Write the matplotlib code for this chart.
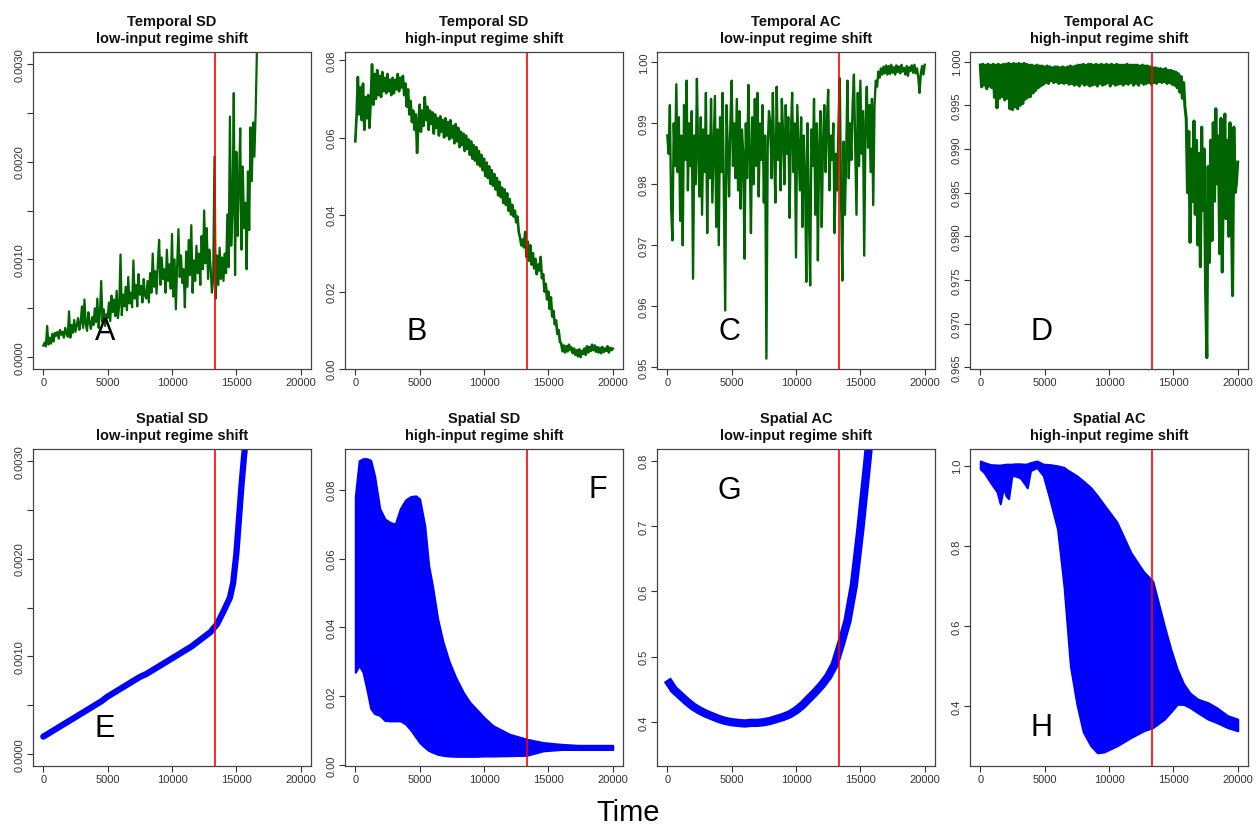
import numpy as np
import matplotlib
matplotlib.use("Agg")
import matplotlib.pyplot as plt

plt.rcParams['font.family'] = ['Liberation Sans', 'DejaVu Sans']

# --- DATA ---
SHIFT_T = 13350   # regime shift marker
STEP = 100        # sampling step of the temporal series

# A: temporal SD, low-input (x 1e-4), every 100 steps from t=0
temp_sd_low = [
    1.2, 1.5, 1.1, 3.2, 1.3, 2.0, 1.4, 2.4, 1.6, 2.5,
    2.2, 2.6, 1.9, 2.8, 2.3, 2.6, 2.0, 3.0, 2.4, 2.1,
    4.7, 2.0, 3.3, 2.5, 3.8, 2.6, 3.3, 4.0, 2.8, 3.5,
    5.2, 3.0, 5.9, 3.4, 2.7, 4.6, 3.5, 2.9, 4.1, 3.3,
    5.0, 3.6, 6.0, 3.0, 4.5, 7.8, 3.6, 4.9, 3.2, 4.4,
    4.0, 5.6, 3.7, 6.3, 4.6, 5.9, 4.2, 6.8, 4.0, 5.3,
    10.5, 4.3, 6.4, 5.2, 7.2, 4.8, 8.2, 5.5, 6.6, 5.1,
    9.9, 6.0, 7.4, 5.2, 8.5, 6.4, 7.3, 5.6, 8.0, 6.3,
    6.0, 7.8, 5.6, 8.6, 6.6, 10.6, 7.2, 8.8, 6.5, 9.6,
    12.0, 7.4, 10.2, 8.0, 9.0, 6.6, 11.0, 7.8, 9.5, 7.0,
    12.6, 6.2, 10.0, 4.9, 9.4, 13.1, 8.2, 10.4, 7.6, 9.0,
    5.1, 10.8, 7.2, 12.0, 8.4, 13.5, 6.6, 9.9, 7.8, 11.4,
    8.6, 10.6, 7.4, 12.4, 9.0, 15.0, 9.6, 13.2, 8.0, 11.0,
    9.2, 6.6, 8.0, 20.5, 6.0, 10.4, 7.4, 11.2, 8.0, 10.2,
    7.8, 10.6, 8.6, 14.6, 9.2, 24.6, 11.4, 15.0, 27.0, 8.4,
    21.0, 12.4, 17.5, 23.4, 11.0, 19.5, 13.2, 15.8, 9.0, 19.0,
    13.0, 23.5, 18.0, 24.0, 20.5, 25.0, 31.5,
]

# B: temporal SD, high-input (x 1e-3)
temp_sd_high = [
    59.0, 65.5, 75.7, 66.0, 73.0, 64.5, 74.0, 62.0, 70.5, 65.0,
    71.0, 62.5, 69.5, 79.0, 68.5, 76.5, 70.0, 77.5, 71.0, 76.0,
    70.5, 77.0, 72.0, 75.5, 71.5, 76.5, 72.0, 75.0, 71.0, 75.5,
    71.5, 75.0, 72.5, 76.5, 72.0, 75.5, 73.0, 76.0, 71.0, 74.0,
    68.0, 72.5, 66.0, 69.5, 64.0, 67.0, 62.0, 66.0, 56.0, 63.5,
    68.5, 61.5, 67.0, 63.0, 70.5, 64.5, 68.0, 62.0, 67.0, 63.5,
    66.5, 61.0, 66.0, 62.5, 65.0, 60.5, 65.5, 61.5, 64.5, 60.0,
    65.0, 60.5, 64.0, 59.5, 64.5, 60.0, 63.0, 58.5, 63.5, 59.0,
    62.5, 57.5, 61.5, 58.0, 61.0, 56.5, 60.5, 57.0, 59.5, 55.5,
    59.0, 54.5, 58.0, 54.0, 57.5, 53.0, 56.5, 52.5, 55.5, 51.5,
    54.5, 50.0, 53.5, 49.5, 52.5, 48.0, 51.5, 47.5, 50.5, 46.5,
    49.5, 45.0, 48.5, 44.5, 47.0, 43.0, 46.5, 42.5, 45.5, 41.0,
    44.0, 40.0, 42.5, 39.5, 41.0, 38.0, 39.5, 35.5, 34.0, 32.0,
    33.5, 31.5, 35.5, 29.0, 33.0, 28.0, 32.0, 27.0, 30.0, 26.0,
    28.5, 24.5, 27.0, 25.5, 29.0, 23.5, 24.5, 20.0, 22.0, 18.0,
    20.0, 15.5, 18.5, 13.5, 15.0, 11.5, 12.5, 9.0, 10.0, 7.0,
    6.5, 4.5, 6.0, 4.2, 5.8, 4.5, 6.2, 4.8, 5.5, 4.0,
    5.2, 3.6, 4.8, 3.2, 5.0, 3.0, 4.6, 3.8, 5.2, 3.6,
    5.8, 4.2, 5.6, 4.6, 6.2, 4.8, 6.0, 4.4, 5.6, 4.2,
    5.4, 4.0, 5.6, 4.3, 5.2, 4.6, 5.8, 4.2, 5.4, 4.8,
    5.2,
]

# C: temporal AC, low-input (x 1e-3)
temp_ac_low = [
    988, 985, 993, 976, 970.8, 990, 983, 996.4, 982, 991,
    974, 988, 970, 993, 984, 997, 979, 990, 983, 992,
    964.5, 988, 980, 997.3, 985, 978, 991, 975, 989, 982,
    995, 972, 988, 981, 994, 977, 986, 994.5, 973, 989,
    970, 991, 982, 995, 977, 959.3, 993, 986, 978, 990,
    997, 983, 990, 981, 994, 979, 992, 976, 989, 985,
    967.8, 990, 981, 996.3, 985, 972, 991, 980, 994, 983,
    995, 978, 990, 984, 993, 977, 988, 951.4, 986, 992,
    990, 981, 995, 985, 977, 996, 984, 990, 979, 994,
    988, 980, 993, 985, 991, 974.5, 988, 995, 982, 990,
    968, 993, 986, 979, 991, 973, 988, 982, 964, 990,
    976, 963.4, 989, 983, 994, 975, 990, 967.5, 986, 992,
    973, 987, 993, 982, 990, 995.5, 979, 988, 984, 990,
    972, 985, 979, 990, 997.4, 978, 964.2, 987, 975, 985,
    997, 981, 990, 984, 993, 998, 986, 975, 995, 983,
    997, 985, 992, 968.3, 990, 996, 986, 993, 982, 994,
    976.6, 993, 997, 996, 998.5, 997.5, 999, 998, 999.3, 998.2,
    999.5, 998, 999.4, 998.1, 999.6, 998.3, 999.2, 998.0, 999.5, 998.4,
    999.3, 998.2, 999.6, 998.5, 999.1, 998.0, 999.4, 997.8, 999.2, 998.6,
    999.5, 998.3, 999.6, 998.2, 999.0, 997.6, 995.0, 998.2, 999.4, 998.0,
    999.6,
]

# D: temporal AC, high-input (x 1e-3)
temp_ac_high = [
    999.6, 997.1, 999.7, 997.3, 999.6, 996.9, 999.7, 997.2, 999.6, 997.0,
    999.7, 995.9, 999.6, 994.7, 999.7, 995.8, 999.6, 996.0, 999.7, 995.6,
    999.7, 995.8, 999.8, 994.6, 999.7, 994.5, 999.8, 994.8, 999.7, 994.6,
    999.8, 995.0, 999.7, 995.2, 999.8, 995.7, 999.7, 995.9, 999.6, 996.0,
    999.6, 996.4, 999.5, 996.7, 999.6, 997.0, 999.5, 997.2, 999.5, 997.4,
    999.4, 997.6, 999.5, 997.5, 999.4, 997.8, 999.3, 997.6, 999.4, 997.7,
    999.4, 997.5, 999.3, 997.6, 999.4, 997.5, 999.3, 997.6, 999.4, 997.4,
    999.5, 997.5, 999.4, 997.3, 999.5, 997.4, 999.6, 997.2, 999.6, 997.5,
    999.7, 997.3, 999.6, 997.4, 999.7, 997.2, 999.7, 997.3, 999.6, 997.4,
    999.7, 997.2, 999.6, 997.5, 999.7, 997.3, 999.6, 997.4, 999.7, 997.6,
    999.6, 997.2, 999.7, 997.5, 999.6, 997.3, 999.7, 997.4, 999.6, 997.5,
    999.6, 997.3, 999.6, 997.5, 999.7, 997.4, 999.6, 997.6, 999.6, 997.3,
    999.6, 997.5, 999.6, 997.3, 999.5, 997.6, 999.6, 997.4, 999.5, 997.5,
    999.5, 997.6, 999.4, 997.4, 999.3, 997.6, 999.3, 997.5, 999.2, 997.7,
    999.2, 997.6, 999.1, 997.7, 999.2, 997.5, 999.0, 997.6, 999.0, 997.4,
    998.9, 997.3, 998.8, 997.0, 998.6, 996.5, 998.3, 995.8, 997.6, 994.8,
    993.5, 985.0, 992.0, 979.3, 990.0, 984.0, 993.2, 982.5, 991.0, 979.0,
    989.5, 976.5, 992.5, 983.0, 990.0, 974.3, 966.1, 988.0, 977.0, 991.0,
    979.5, 993.0, 984.0, 994.6, 986.0, 991.5, 978.0, 993.5, 975.9, 989.0,
    994.0, 982.0, 991.0, 980.0, 993.0, 984.5, 973.2, 992.5, 985.0, 986.0,
    988.5,
]

# E: spatial SD, low-input (x 1e-4)
sp_sd_low_t = [0, 500, 1000, 1500, 2000, 2500, 3000, 3500, 4000, 4500,
               5000, 5500, 6000, 6500, 7000, 7500, 8000, 8500, 9000, 9500,
               10000, 10500, 11000, 11500, 12000, 12500, 13000, 13500, 14000,
               14500, 14750, 15000, 15200, 15400, 15600, 15800]
sp_sd_low = [1.8, 2.2, 2.6, 3.0, 3.4, 3.8, 4.2, 4.6, 5.0, 5.4,
             5.9, 6.3, 6.7, 7.1, 7.5, 7.9, 8.2, 8.6, 9.0, 9.4,
             9.8, 10.2, 10.6, 11.0, 11.5, 12.0, 12.5, 13.3, 14.6,
             16.0, 17.5, 20.5, 24.0, 27.5, 30.5, 33.0]

# F: spatial SD, high-input, spread of the point cloud
sp_sd_high_t = [0, 300, 600, 900, 1200, 1500, 1900, 2300, 2700, 3100, 3500,
                3900, 4300, 4700, 5000, 5400, 5700, 6000, 6400, 6800, 7300,
                7800, 8400, 8900, 9400, 10000, 10700, 12000, 13300, 14600,
                16000, 17300, 18500, 20000]
sp_sd_high_upper = [0.078, 0.0884, 0.089, 0.089, 0.0885, 0.084, 0.0745, 0.0715,
                    0.0705, 0.0700, 0.0745, 0.0770, 0.0780, 0.0782, 0.0773,
                    0.0695, 0.058, 0.052, 0.0425, 0.036, 0.030, 0.0255, 0.0211,
                    0.0183, 0.0163, 0.0139, 0.0115, 0.0090, 0.0076, 0.0066,
                    0.0061, 0.0058, 0.0058, 0.0058]
sp_sd_high_lower = [0.027, 0.029, 0.027, 0.022, 0.0165, 0.0150, 0.0145, 0.0130,
                    0.0129, 0.0129, 0.0129, 0.0120, 0.0103, 0.0082, 0.0066,
                    0.0052, 0.0043, 0.0038, 0.0032, 0.0029, 0.0027, 0.0026,
                    0.0026, 0.0026, 0.0026, 0.0027, 0.0027, 0.0028, 0.0029,
                    0.0042, 0.0046, 0.0046, 0.0046, 0.0046]

# G: spatial AC, low-input
sp_ac_low_t = [0, 500, 1000, 1500, 2000, 2500, 3000, 3500, 4000, 4500, 5000,
               5500, 6000, 6500, 7000, 7500, 8000, 8500, 9000, 9500, 10000,
               10500, 11000, 11500, 12000, 12500, 13000, 13500, 14000, 14500,
               15000, 15500, 15700]
sp_ac_low = [0.465, 0.450, 0.441, 0.432, 0.424, 0.418, 0.413, 0.409, 0.405,
             0.402, 0.400, 0.399, 0.398, 0.399, 0.399, 0.400, 0.402, 0.405,
             0.408, 0.412, 0.418, 0.426, 0.436, 0.446, 0.457, 0.470, 0.488,
             0.520, 0.555, 0.610, 0.695, 0.790, 0.830]

# H: spatial AC, high-input, spread of the point cloud
sp_ac_high_t = [0, 300, 800, 1300, 1550, 1800, 2000, 2200, 2450, 2700, 3100,
                3450, 3650, 3900, 4400, 4900, 5400, 6000, 6500, 6750, 7000,
                7500, 8000, 8600, 9100, 9600, 10600, 11700, 12700, 13400,
                14300, 14800, 15300, 15800, 16300, 16900, 17700, 18400, 19200,
                20000]
sp_ac_high_upper = [1.012, 1.008, 1.003, 1.002, 1.002, 1.003, 1.004, 1.004,
                    1.004, 1.005, 1.005, 1.004, 1.005, 1.008, 1.012, 1.004,
                    1.003, 1.000, 0.996, 0.990, 0.985, 0.975, 0.962, 0.945,
                    0.925, 0.903, 0.860, 0.783, 0.735, 0.712, 0.600, 0.542,
                    0.492, 0.455, 0.432, 0.417, 0.408, 0.395, 0.376, 0.367]
sp_ac_high_lower = [0.992, 0.983, 0.958, 0.935, 0.905, 0.945, 0.925, 0.918,
                    0.975, 0.975, 0.970, 0.955, 0.945, 0.988, 0.996, 0.975,
                    0.917, 0.842, 0.700, 0.600, 0.500, 0.405, 0.335, 0.300,
                    0.283, 0.285, 0.300, 0.321, 0.338, 0.346, 0.367, 0.385,
                    0.404, 0.404, 0.396, 0.383, 0.367, 0.358, 0.346, 0.338]

# --- LAYOUT ---
W, H = 1259, 829
lefts_px = [33, 345, 657, 970]
ax_w_px, ax_h_px = 278, 317
bottoms_px = [370, 767]
GREEN = '#006400'
BLUE = '#0000ff'
FRAME = '#444444'

fig = plt.figure(figsize=(W / 100, H / 100), dpi=100)


def make_ax(col, row):
    ax = fig.add_axes([lefts_px[col] / W, 1 - bottoms_px[row] / H,
                       ax_w_px / W, ax_h_px / H])
    ax.set_xlim(-800, 20800)
    ax.set_xticks([0, 5000, 10000, 15000, 20000])
    ax.set_xticklabels(['0', '5000', '10000', '15000', '20000'])
    ax.tick_params(direction='out', length=4, width=0.8, labelsize=8,
                   colors='#333333', pad=2)
    for s in ax.spines.values():
        s.set_color(FRAME)
        s.set_linewidth(0.9)
    return ax


def set_y(ax, lim, ticks, labels):
    ax.set_ylim(*lim)
    ax.set_yticks(ticks)
    ax.set_yticklabels(labels, rotation=90, va='center')


def finish(ax, title, letter, lx, ly):
    ax.axvline(SHIFT_T, color='red', lw=1.2)
    ax.set_title(title, fontweight='bold', fontsize=10.5, pad=7,
                 linespacing=1.3, color='#111111')
    ax.text(lx, ly, letter, transform=ax.transAxes, fontsize=22,
            ha='center', va='center')


# A
ax = make_ax(0, 0)
t = np.arange(len(temp_sd_low)) * STEP
ax.plot(t, np.array(temp_sd_low) * 1e-4, color=GREEN, lw=1.6)
set_y(ax, (-0.00012, 0.00312), np.arange(7) * 0.0005,
      ['0.0000', '', '0.0010', '', '0.0020', '', '0.0030'])
finish(ax, "Temporal SD\nlow-input regime shift", "A", 0.258, 0.12)

# B
ax = make_ax(1, 0)
t = np.arange(len(temp_sd_high)) * STEP
ax.plot(t, np.array(temp_sd_high) * 1e-3, color=GREEN, lw=1.9)
set_y(ax, (-0.0001, 0.0822), [0, 0.02, 0.04, 0.06, 0.08],
      ['0.00', '0.02', '0.04', '0.06', '0.08'])
finish(ax, "Temporal SD\nhigh-input regime shift", "B", 0.259, 0.12)

# C
ax = make_ax(2, 0)
t = np.arange(len(temp_ac_low)) * STEP
ax.plot(t, np.array(temp_ac_low) * 1e-3, color=GREEN, lw=1.7)
set_y(ax, (0.9497, 1.0017), [0.95, 0.96, 0.97, 0.98, 0.99, 1.00],
      ['0.95', '0.96', '0.97', '0.98', '0.99', '1.00'])
finish(ax, "Temporal AC\nlow-input regime shift", "C", 0.259, 0.12)

# D
ax = make_ax(3, 0)
t = np.arange(len(temp_ac_high)) * STEP
ax.plot(t, np.array(temp_ac_high) * 1e-3, color=GREEN, lw=2.2)
dticks = [0.965, 0.970, 0.975, 0.980, 0.985, 0.990, 0.995, 1.000]
set_y(ax, (0.9648, 1.0011), dticks, ['%.3f' % v for v in dticks])
finish(ax, "Temporal AC\nhigh-input regime shift", "D", 0.256, 0.12)

# E
ax = make_ax(0, 1)
ax.plot(sp_sd_low_t, np.array(sp_sd_low) * 1e-4, color=BLUE, lw=4.5,
        solid_capstyle='round')
set_y(ax, (-0.00012, 0.00312), np.arange(7) * 0.0005,
      ['0.0000', '', '0.0010', '', '0.0020', '', '0.0030'])
finish(ax, "Spatial SD\nlow-input regime shift", "E", 0.258, 0.12)

# F
ax = make_ax(1, 1)
ax.fill_between(sp_sd_high_t, sp_sd_high_lower, sp_sd_high_upper,
                color=BLUE, lw=1.5, edgecolor=BLUE)
set_y(ax, (-0.0002, 0.0918), [0, 0.02, 0.04, 0.06, 0.08],
      ['0.00', '0.02', '0.04', '0.06', '0.08'])
finish(ax, "Spatial SD\nhigh-input regime shift", "F", 0.91, 0.874)

# G
ax = make_ax(2, 1)
ax.plot(sp_ac_low_t, sp_ac_low, color=BLUE, lw=6, solid_capstyle='butt')
set_y(ax, (0.333, 0.818), [0.4, 0.5, 0.6, 0.7, 0.8],
      ['0.4', '0.5', '0.6', '0.7', '0.8'])
finish(ax, "Spatial AC\nlow-input regime shift", "G", 0.26, 0.87)

# H
ax = make_ax(3, 1)
ax.fill_between(sp_ac_high_t, sp_ac_high_lower, sp_ac_high_upper,
                color=BLUE, lw=1.5, edgecolor=BLUE)
set_y(ax, (0.25, 1.042), [0.4, 0.6, 0.8, 1.0], ['0.4', '0.6', '0.8', '1.0'])
finish(ax, "Spatial AC\nhigh-input regime shift", "H", 0.256, 0.123)

fig.text(628 / W, 1 - 813 / H, "Time", ha='center', va='center', fontsize=21)

fig.savefig("out.png", dpi=100)
